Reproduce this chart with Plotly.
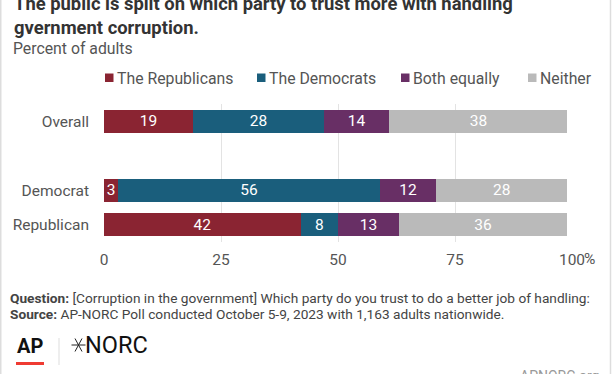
import plotly.graph_objects as go

# ---- data ----
groups = ["Overall", "Democrat", "Republican"]
group_pos = [0, 2, 3]
series_names = ["The Republicans", "The Democrats", "Both equally", "Neither"]
republicans = [19, 3, 42]
democrats = [28, 56, 8]
both_equally = [14, 12, 13]
neither = [38, 28, 36]
x_ticks = [0, 25, 50, 75, 100]
x_tick_labels = ["0", "25", "50", "75", "100"]

colors = ["#8a2432", "#1a5e7c", "#682f65", "#bababa"]
series_values = [republicans, democrats, both_equally, neither]

W, H = 612, 374
L, R, T, B = 104, 40, 104, 132
PW, PH = W - L - R, H - T - B


def px2x(p):
    return (p - L) / PW


def py2y(p):
    return (H - B - p) / PH


FONT = "Roboto"

fig = go.Figure()
for name, vals, col in zip(series_names, series_values, colors):
    fig.add_trace(go.Bar(
        y=group_pos, x=vals, name=name, orientation="h",
        marker=dict(color=col, line=dict(width=0)),
        text=[str(v) for v in vals], textposition="inside", textangle=0,
        insidetextanchor="middle", constraintext="none",
        textfont=dict(color="white", size=15.5, family=FONT),
        width=0.67, showlegend=False, hoverinfo="skip",
    ))

annotations = []
shapes = []

# title
annotations.append(dict(
    x=px2x(12), y=py2y(15.5), xref="paper", yref="paper", xanchor="left", yanchor="middle",
    align="left", showarrow=False,
    text="<b>The public is split on which party to trust more with handling<br>gvernment corruption.</b>",
    font=dict(family=FONT, size=18.4, color="#333333"),
))
annotations.append(dict(
    x=px2x(11), y=py2y(48), xref="paper", yref="paper", xanchor="left", yanchor="middle",
    showarrow=False, text="Percent of adults",
    font=dict(family=FONT, size=15.8, color="#555555"),
))

# legend
leg_sq = [105, 257, 401, 528]
for name, col, sx in zip(series_names, colors, leg_sq):
    shapes.append(dict(type="rect", xref="paper", yref="paper",
                       x0=px2x(sx), x1=px2x(sx + 8.5), y0=py2y(82), y1=py2y(73.5),
                       fillcolor=col, line=dict(width=0)))
    annotations.append(dict(
        x=px2x(sx + 10), y=py2y(78), xref="paper", yref="paper", xanchor="left", yanchor="middle",
        showarrow=False, text=name, font=dict(family=FONT, size=15.8, color="#555555"),
    ))

# percent sign after 100
annotations.append(dict(
    x=100, xref="x", y=py2y(259), yref="paper", xanchor="left", yanchor="middle",
    xshift=10, showarrow=False, text="%",
    font=dict(family=FONT, size=15.5, color="#555555"),
))

# footer
annotations.append(dict(
    x=px2x(8), y=py2y(298), xref="paper", yref="paper", xanchor="left", yanchor="middle",
    showarrow=False,
    text="<b>Question:</b> [Corruption in the government] Which party do you trust to do a better job of handling:",
    font=dict(family=FONT, size=13.7, color="#444444"),
))
annotations.append(dict(
    x=px2x(8), y=py2y(314), xref="paper", yref="paper", xanchor="left", yanchor="middle",
    showarrow=False,
    text="<b>Source:</b> AP-NORC Poll conducted October 5-9, 2023 with 1,163 adults nationwide.",
    font=dict(family=FONT, size=13.7, color="#444444"),
))
annotations.append(dict(
    x=px2x(15), y=py2y(346), xref="paper", yref="paper", xanchor="left", yanchor="middle",
    showarrow=False, text="<b>AP</b>",
    font=dict(family=FONT, size=20, color="#111111"),
))
annotations.append(dict(
    x=px2x(83), y=py2y(345), xref="paper", yref="paper", xanchor="left", yanchor="middle",
    showarrow=False, text="NORC",
    font=dict(family=FONT, size=23.5, color="#111111"),
))
annotations.append(dict(
    x=px2x(518), y=py2y(376), xref="paper", yref="paper", xanchor="left", yanchor="middle",
    showarrow=False, text="APNORC.org",
    font=dict(family=FONT, size=14, color="#999999"),
))

# AP red bar, separator, NORC asterisk, side borders
shapes.append(dict(type="rect", xref="paper", yref="paper",
                   x0=px2x(16), x1=px2x(44), y0=py2y(365), y1=py2y(362),
                   fillcolor="#ef3b32", line=dict(width=0)))
shapes.append(dict(type="line", xref="paper", yref="paper",
                   x0=px2x(59), x1=px2x(59), y0=py2y(338), y1=py2y(365),
                   line=dict(color="#dddddd", width=1)))
cx, cy = 78.5, 345
shapes.append(dict(type="line", xref="paper", yref="paper",
                   x0=px2x(cx - 7), x1=px2x(cx + 7), y0=py2y(cy), y1=py2y(cy),
                   line=dict(color="#222222", width=1)))
for dx, dy in [(3.5, 6.5), (3.5, -6.5)]:
    shapes.append(dict(type="line", xref="paper", yref="paper",
                       x0=px2x(cx - dx), x1=px2x(cx + dx), y0=py2y(cy - dy), y1=py2y(cy + dy),
                       line=dict(color="#222222", width=1)))
for bx in [0.75, 610.5]:
    shapes.append(dict(type="line", xref="paper", yref="paper",
                       x0=px2x(bx), x1=px2x(bx), y0=py2y(0), y1=py2y(374),
                       line=dict(color="#dddddd", width=1.5)))

fig.update_layout(
    width=W, height=H,
    margin=dict(l=L, r=R, t=T, b=B, pad=0),
    barmode="stack",
    paper_bgcolor="white", plot_bgcolor="white",
    font=dict(family=FONT, size=15, color="#555555"),
    annotations=annotations, shapes=shapes,
    showlegend=False,
    xaxis=dict(range=[0, 100], tickvals=x_ticks, ticktext=x_tick_labels,
               showgrid=True, gridcolor="#e3e3e3", gridwidth=1,
               zeroline=False, showline=False, ticks="",
               ticklabelstandoff=6,
               tickfont=dict(family=FONT, size=15.5, color="#555555"), fixedrange=True),
    yaxis=dict(range=[3.5, -0.5], tickvals=group_pos, ticktext=groups,
               showgrid=False, zeroline=False, showline=False, ticks="",
               ticklabelstandoff=14,
               tickfont=dict(family=FONT, size=15.5, color="#555555"), fixedrange=True),
)

fig.write_html(
    "out.html",
    config={"displayModeBar": False},
    post_script="document.body.style.margin='0px';document.body.style.overflow='hidden';",
)
